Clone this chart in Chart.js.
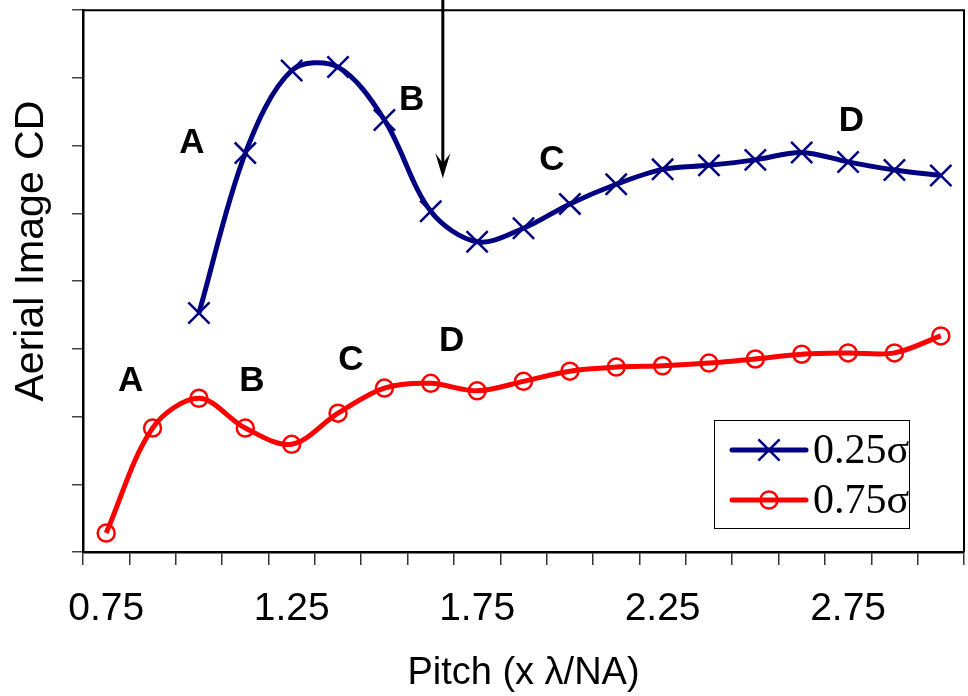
<!DOCTYPE html>
<html>
<head>
<meta charset="utf-8">
<script src="https://cdn.jsdelivr.net/npm/chart.js@4/dist/chart.umd.min.js"></script>
<style>
  html, body { margin: 0; padding: 0; background: #fff; }
  #wrap { width: 968px; height: 696px; }
</style>
</head>
<body>
<div id="wrap"><canvas id="cd" width="968" height="696"></canvas></div>
<script>
// pitch in units of lambda/NA, one category per step
const pitch = [0.75, 0.875, 1.0, 1.125, 1.25, 1.375, 1.5, 1.625, 1.75, 1.875,
               2.0, 2.125, 2.25, 2.375, 2.5, 2.625, 2.75, 2.875, 3.0];

// aerial image CD (arbitrary units), sigma = 0.25 and sigma = 0.75
const cdSigma025 = [null, null, 3.53, 5.89, 7.11, 7.16, 6.38, 5.03, 4.58, 4.78,
                    5.14, 5.43, 5.65, 5.71, 5.79, 5.90, 5.76, 5.64, 5.56];
const cdSigma075 = [0.28, 1.83, 2.27, 1.83, 1.59, 2.05, 2.42, 2.49, 2.38, 2.52,
                    2.67, 2.73, 2.75, 2.79, 2.85, 2.92, 2.94, 2.94, 3.19];

const seriesNames = ['0.25σ', '0.75σ'];
const yTitle = 'Aerial Image CD';

// region letters, in category index / CD units
const regionMarks = [
  { text: 'A', x: 1.85, y: 6.04 }, { text: 'B', x: 6.59, y: 6.67 },
  { text: 'C', x: 9.61, y: 5.79 }, { text: 'D', x: 16.07, y: 6.36 },
  { text: 'A', x: 0.53, y: 2.52 }, { text: 'B', x: 3.14, y: 2.52 },
  { text: 'C', x: 5.28, y: 2.83 }, { text: 'D', x: 7.45, y: 3.11 }
];
const arrowAt = { x: 7.26, y: 5.52 };

const SANS = '"Liberation Sans", Arial, sans-serif';
const SERIF = '"Liberation Serif", "Times New Roman", serif';

const overlay = {
  id: 'overlay',
  beforeDatasetsDraw(chart) {
    const { ctx, chartArea: a } = chart;
    ctx.save();
    ctx.strokeStyle = '#000';
    ctx.lineWidth = 2;
    ctx.beginPath();
    ctx.moveTo(a.left, a.top);
    ctx.lineTo(a.right, a.top);
    ctx.lineTo(a.right, a.bottom);
    ctx.stroke();

    // y axis title, sitting a little above the axis middle
    ctx.fillStyle = '#000';
    ctx.font = '41px ' + SANS;
    ctx.textAlign = 'center';
    ctx.textBaseline = 'middle';
    ctx.translate(32, (a.top + a.bottom) / 2 - 30);
    ctx.rotate(-Math.PI / 2);
    ctx.fillText(yTitle, 0, 0);
    ctx.restore();
  },
  afterDraw(chart) {
    const { ctx, chartArea: a, scales: { x, y } } = chart;
    ctx.save();

    // region letters
    ctx.fillStyle = '#000';
    ctx.font = 'bold 35px ' + SANS;
    ctx.textAlign = 'center';
    ctx.textBaseline = 'middle';
    regionMarks.forEach(m => ctx.fillText(m.text, x.getPixelForValue(m.x), y.getPixelForValue(m.y)));

    // arrow from the top edge down to the dip
    const ax = x.getPixelForValue(arrowAt.x);
    const ay = y.getPixelForValue(arrowAt.y);
    ctx.strokeStyle = '#000';
    ctx.lineWidth = 3;
    ctx.beginPath();
    ctx.moveTo(ax, 0);
    ctx.lineTo(ax, ay - 10);
    ctx.stroke();
    ctx.beginPath();
    ctx.moveTo(ax, ay);
    ctx.lineTo(ax - 7.5, ay - 25);
    ctx.lineTo(ax, ay - 15);
    ctx.lineTo(ax + 7.5, ay - 25);
    ctx.closePath();
    ctx.fill();

    // legend box
    const bx = a.right - 250, by = a.bottom - 132, bw = 195, bh = 108;
    ctx.fillStyle = '#fff';
    ctx.fillRect(bx, by, bw, bh);
    ctx.strokeStyle = '#000';
    ctx.lineWidth = 1;
    ctx.strokeRect(bx + 0.5, by + 0.5, bw, bh);
    chart.data.datasets.forEach((ds, i) => {
      const ry = by + 30 + i * 50;
      const x0 = bx + 18, x1 = bx + 92, xm = (x0 + x1) / 2;
      ctx.strokeStyle = ds.borderColor;
      ctx.lineWidth = ds.borderWidth;
      ctx.lineCap = 'round';
      ctx.beginPath();
      ctx.moveTo(x0, ry);
      ctx.lineTo(x1, ry);
      ctx.stroke();
      ctx.lineWidth = ds.pointBorderWidth;
      ctx.lineCap = 'butt';
      if (ds.pointStyle === 'crossRot') {
        const r = ds.pointRadius * 0.7071;
        ctx.beginPath();
        ctx.moveTo(xm - r, ry - r); ctx.lineTo(xm + r, ry + r);
        ctx.moveTo(xm - r, ry + r); ctx.lineTo(xm + r, ry - r);
        ctx.stroke();
      } else {
        ctx.beginPath();
        ctx.arc(xm, ry, ds.pointRadius, 0, Math.PI * 2);
        ctx.stroke();
      }
      ctx.fillStyle = '#000';
      ctx.font = '42px ' + SERIF;
      ctx.textAlign = 'left';
      ctx.textBaseline = 'middle';
      ctx.fillText(ds.label, bx + 99, ry + 2);
    });
    ctx.restore();
  }
};

new Chart(document.getElementById('cd').getContext('2d'), {
  type: 'line',
  data: {
    labels: pitch.map(String),
    datasets: [{
      label: seriesNames[0],
      data: cdSigma025,
      borderColor: '#000080',
      borderWidth: 5,
      tension: 0.33,
      pointStyle: 'crossRot',
      pointRadius: 15,
      pointBorderWidth: 2.5,
      pointBorderColor: '#000080',
      pointBackgroundColor: 'rgba(0,0,0,0)'
    }, {
      label: seriesNames[1],
      data: cdSigma075,
      borderColor: '#ff0000',
      borderWidth: 5,
      tension: 0.33,
      pointStyle: 'circle',
      pointRadius: 8.5,
      pointBorderWidth: 2.5,
      pointBorderColor: '#ff0000',
      pointBackgroundColor: 'rgba(0,0,0,0)'
    }]
  },
  options: {
    responsive: false,
    animation: false,
    layout: { autoPadding: false, padding: { top: 10, right: 4, left: 0, bottom: 0 } },
    plugins: {
      legend: { display: false },
      tooltip: { enabled: false }
    },
    scales: {
      x: {
        type: 'category',
        offset: true,
        grid: { offset: true, drawOnChartArea: false, drawTicks: true, tickLength: 13, color: '#333', lineWidth: 1.5 },
        border: { color: '#000', width: 2.5 },
        ticks: {
          autoSkip: false,
          maxRotation: 0,
          padding: 21,
          color: '#000',
          font: { family: SANS, size: 39 },
          callback: (v, i) => (i % 4 === 0 ? pitch[i].toFixed(2) : '')
        },
        title: {
          display: true,
          text: 'Pitch (x λ/NA)',
          color: '#000',
          font: { family: SANS, size: 38 },
          padding: { top: 0, bottom: 0 }
        },
        afterFit: s => { s.height = 144; }
      },
      y: {
        min: 0,
        max: 8,
        grid: { drawOnChartArea: false, drawTicks: true, tickLength: 11, color: '#444', lineWidth: 1.5 },
        border: { color: '#000', width: 2.5 },
        ticks: { stepSize: 1, callback: () => '' },
        afterFit: s => { s.width = 83; }
      }
    }
  },
  plugins: [overlay]
});
</script>
</body>
</html>
